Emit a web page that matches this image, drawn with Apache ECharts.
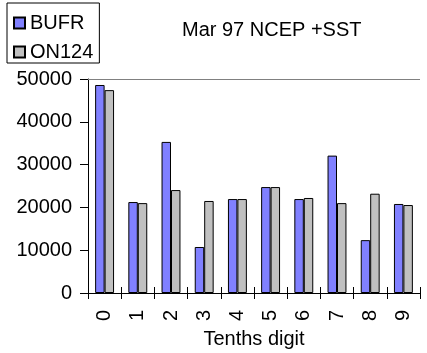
<!DOCTYPE html>
<html>
<head>
<meta charset="utf-8">
<script src="https://cdn.jsdelivr.net/npm/echarts@6/dist/echarts.min.js"></script>
<style>
  html, body { margin: 0; padding: 0; background: #fff; }
  #chart { width: 427px; height: 353px; }
</style>
</head>
<body>
<div id="chart"></div>
<script>
// tenths digit categories
const digits = ["0", "1", "2", "3", "4", "5", "6", "7", "8", "9"];
// counts
const bufr = [48600, 21250, 35300, 10750, 21950, 24750, 21950, 32100, 12350, 20800];
const on124 = [47400, 21000, 24050, 21500, 21950, 24750, 22200, 21000, 23200, 20550];
const yTicks = [0, 10000, 20000, 30000, 40000, 50000];

const font = "Liberation Sans, Arial, sans-serif";
let myChart = echarts.init(document.getElementById("chart"));

let option = {
  animation: false,
  backgroundColor: "#fff",
  textStyle: { fontFamily: font, color: "#000" },
  title: {
    text: "Mar 97 NCEP +SST",
    left: 182,
    top: 20,
    padding: 0,
    textStyle: { fontFamily: font, fontSize: 20, fontWeight: "normal", color: "#000" }
  },
  legend: {
    orient: "vertical",
    left: 7,
    top: 3,
    padding: [10, 6, 1, 6],
    itemGap: 9,
    itemWidth: 11,
    itemHeight: 11,
    borderColor: "#000",
    borderWidth: 1,
    icon: "rect",
    textStyle: { fontFamily: font, fontSize: 20, color: "#000", lineHeight: 20 },
    data: ["BUFR", "ON124"]
  },
  grid: { left: 88, right: 7, top: 79, bottom: 60, containLabel: false, outerBoundsMode: "none" },
  xAxis: [
    {
      type: "category",
      data: digits,
      name: "Tenths digit",
      nameLocation: "middle",
      nameGap: 34,
      nameTextStyle: { fontFamily: font, fontSize: 20, color: "#000" },
      axisLine: { lineStyle: { color: "#000", width: 1 } },
      axisTick: { show: true, length: 6, lineStyle: { color: "#000" } },
      axisLabel: { rotate: 90, margin: 17, fontFamily: font, fontSize: 20, color: "#000" }
    },
    {
      type: "category",
      data: digits,
      position: "bottom",
      axisLine: { show: false },
      axisTick: { show: true, inside: true, length: 6, lineStyle: { color: "#000" } },
      axisLabel: { show: false }
    }
  ],
  yAxis: {
    type: "value",
    min: yTicks[0],
    max: yTicks[yTicks.length - 1],
    interval: 10000,
    axisLine: { show: true, lineStyle: { color: "#000", width: 1 } },
    axisTick: { show: true, length: 8, lineStyle: { color: "#000" } },
    axisLabel: { margin: 16, fontFamily: font, fontSize: 20, color: "#000", formatter: v => String(v) },
    splitLine: { show: false }
  },
  series: [
    {
      name: "BUFR",
      type: "bar",
      data: bufr,
      barGap: "0%",
      barCategoryGap: "43%",
      itemStyle: { color: "#8080ff", borderColor: "#000", borderWidth: 1 },
      markLine: {
        silent: true,
        symbol: "none",
        label: { show: false },
        lineStyle: { color: "#808080", width: 1, type: "solid" },
        data: [{ yAxis: yTicks[yTicks.length - 1] }]
      }
    },
    {
      name: "ON124",
      type: "bar",
      data: on124,
      barGap: "0%",
      barCategoryGap: "43%",
      itemStyle: { color: "#c0c0c0", borderColor: "#000", borderWidth: 1 }
    }
  ]
};
myChart.setOption(option);
</script>
</body>
</html>
